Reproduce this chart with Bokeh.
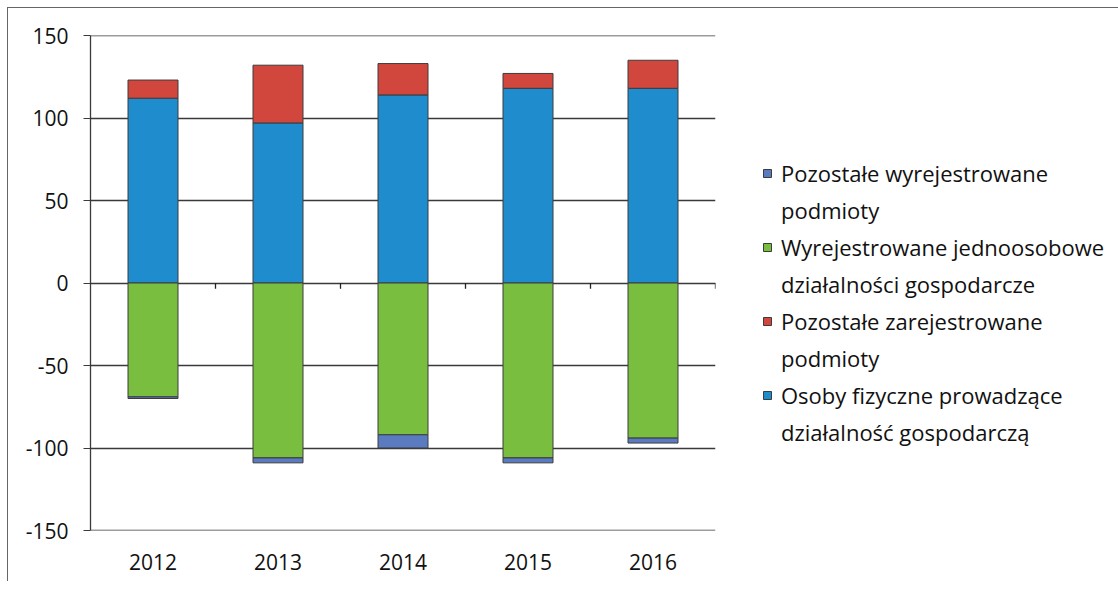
from bokeh.plotting import figure
from bokeh.models import (FactorRange, Range1d, Legend, LegendItem, ColumnDataSource,
                          FixedTicker, NumeralTickFormatter, Span)
from bokeh.transform import dodge
from bokeh.embed import file_html
from bokeh.resources import INLINE

years = ["2012", "2013", "2014", "2015", "2016"]
osoby_fizyczne = [112, 97, 114, 118, 118]          # blue
pozostale_zarejestrowane = [11, 35, 19, 9, 17]      # red
wyrejestrowane_jdg = [-69, -106, -92, -106, -94]    # green
pozostale_wyrejestrowane = [-1, -3, -8, -3, -3]     # slate blue
y_ticks = [-150, -100, -50, 0, 50, 100, 150]

labels = {
    "pw": ["Pozostałe wyrejestrowane", "podmioty"],
    "wj": ["Wyrejestrowane jednoosobowe", "działalności gospodarcze"],
    "pz": ["Pozostałe zarejestrowane", "podmioty"],
    "of": ["Osoby fizyczne prowadzące", "działalność gospodarczą"],
}
colors = {"of": "#1E8CCD", "pz": "#D2473D", "wj": "#79BE3E", "pw": "#5B7BC0"}

src = ColumnDataSource(dict(year=years, of=osoby_fizyczne, pz=pozostale_zarejestrowane,
                            wj=wyrejestrowane_jdg, pw=pozostale_wyrejestrowane,
                            zero=[0] * len(years), tick=[-3.5] * len(years)))

FONT = "Open Sans"

p = figure(x_range=FactorRange(*years, range_padding=0),
           y_range=Range1d(y_ticks[0], y_ticks[-1]),
           frame_width=625, frame_height=495, min_border_left=82, min_border_top=27,
           min_border_bottom=51, min_border_right=10,
           output_backend="svg", toolbar_location=None, background_fill_color="white",
           border_fill_color="white")
p.outline_line_color = None

pos = p.vbar_stack(["of", "pz"], x="year", width=0.4, source=src,
                   fill_color=[colors["of"], colors["pz"]], line_color="#3c3c3c", line_width=1)
neg = p.vbar_stack(["wj", "pw"], x="year", width=0.4, source=src,
                   fill_color=[colors["wj"], colors["pw"]], line_color="#3c3c3c", line_width=1)

# invisible renderer used for the second line of each legend label
blank = p.vbar(x=[], top=[], width=0.4, fill_alpha=0, line_alpha=0)

# tick marks between categories on the zero line
p.segment(x0=dodge("year", 0.5, range=p.x_range), y0="zero",
          x1=dodge("year", 0.5, range=p.x_range), y1="tick", source=src,
          line_color="#222222", line_width=1.3)

for loc in (y_ticks[0], y_ticks[-1]):
    p.add_layout(Span(location=loc, dimension="width", line_color="#3a3a3a", line_width=1.3))

p.xgrid.grid_line_color = None
p.ygrid.grid_line_color = "#3a3a3a"
p.ygrid.grid_line_width = 1.3
p.yaxis.ticker = FixedTicker(ticks=y_ticks)
p.yaxis.formatter = NumeralTickFormatter(format="0")
p.yaxis.minor_tick_line_color = None
p.yaxis.major_tick_out = 7
p.yaxis.major_tick_in = 0
p.yaxis.major_tick_line_color = "#3a3a3a"
p.yaxis.axis_line_color = "#3a3a3a"
p.yaxis.axis_line_width = 1.3
p.yaxis.major_label_standoff = 15
p.yaxis.major_label_text_font = FONT
p.yaxis.major_label_text_font_size = "21px"
p.yaxis.major_label_text_color = "#111111"

p.xaxis.axis_line_color = None
p.xaxis.major_tick_line_color = None
p.xaxis.major_label_standoff = 17
p.xaxis.major_label_text_font = FONT
p.xaxis.major_label_text_font_size = "21px"
p.xaxis.major_label_text_color = "#111111"

items = []
for key, r in (("pw", neg[1]), ("wj", neg[0]), ("pz", pos[1]), ("of", pos[0])):
    items.append(LegendItem(label=labels[key][0], renderers=[r]))
    items.append(LegendItem(label=labels[key][1], renderers=[blank]))

legend = Legend(items=items, location=(47, 83), border_line_color=None,
                background_fill_alpha=0, label_text_font=FONT, label_text_font_size="22px",
                label_text_color="#111111",
                glyph_width=10, glyph_height=10, label_standoff=9, spacing=7, padding=10,
                margin=0)
p.add_layout(legend, "right")

p.styles = {"border-top": "1px solid #666666", "border-left": "1px solid #666666",
            "margin-left": "7px", "margin-top": "7px"}

open("out.html", "w").write(file_html(p, INLINE))
